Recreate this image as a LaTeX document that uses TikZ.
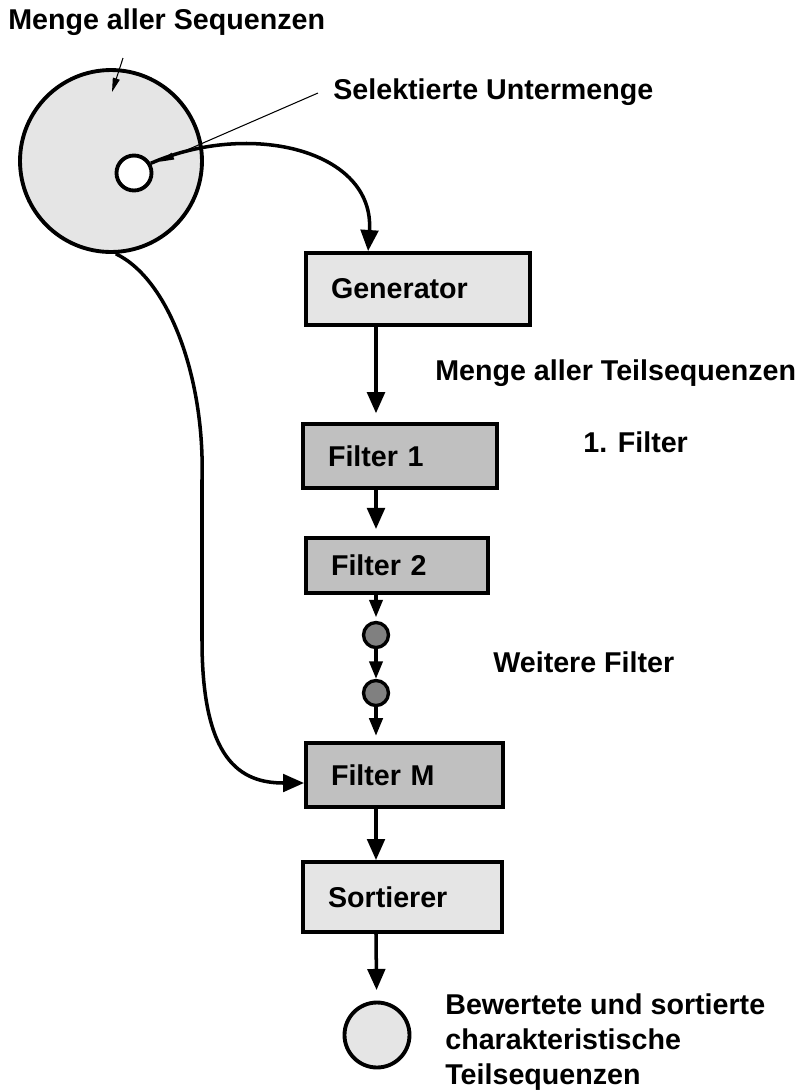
\documentclass[tikz,border=0pt]{standalone}
\usepackage{fontspec}
\setmainfont{Liberation Sans}
\usetikzlibrary{arrows.meta,calc,positioning}
\definecolor{lightfill}{HTML}{E5E5E5}
\definecolor{filterfill}{HTML}{C0C0C0}
\definecolor{dotfill}{HTML}{808080}

\begin{document}
\begin{tikzpicture}[x=0.02cm, y=-0.02cm,
    every node/.style={font=\bfseries\fontsize{16.3}{19.8}\selectfont},
    note/.style={anchor=west, inner sep=0pt, align=left},
    box/.style={draw, line width=2.2pt, inner xsep=0.5cm, inner ysep=0pt, align=left},
    stage/.style={box, fill=lightfill},
    filterbox/.style={box, fill=filterfill},
    set/.style={draw, circle, line width=2.2pt, inner sep=0pt},
    dot/.style={draw, circle, line width=1.9pt, fill=dotfill, minimum size=0.5cm, inner sep=0pt},
    flow/.style={line width=2pt, -{Triangle[length=12pt,width=10pt]}},
    smallflow/.style={line width=2pt, -{Triangle[length=10pt,width=7.5pt]}},
    pointer/.style={line width=0.6pt, -{Triangle[length=8pt,width=4pt]}}]

    \useasboundingbox (0,0) rectangle (800,1090);

    % sequences and the chosen subset
    \node[set, fill=lightfill, minimum size=3.64cm] (all) at (111,161) {};
    \node[set, fill=white, minimum size=0.7cm] (sub) at (134,173) {};
    \node[note] (allname) at (8,22) {Menge aller Sequenzen};
    \node[note] (subname) at (333,92) {Selektierte Untermenge};

    % pipeline
    \node[stage, text width=3.48cm, minimum height=1.44cm] (gen) at (418,289) {Generator};
    \node[filterbox, text width=2.88cm, minimum height=1.28cm] (f1) at (400,456) {Filter 1};
    \node[filterbox, text width=2.64cm, minimum height=1.1cm] (f2) at (397,565.5) {Filter 2};
    \node[dot] (d1) at (376,635) {};
    \node[dot] (d2) at (376,693) {};
    \node[filterbox, text width=2.94cm, minimum height=1.28cm] (fm) at (404.5,775) {Filter M};
    \node[stage, text width=2.98cm, minimum height=1.4cm] (sort) at (402.5,897) {Sortierer};
    \node[set, fill=lightfill, minimum size=1.3cm] (result) at (377,1035) {};

    \node[note] (teil) at (435,373) {Menge aller Teilsequenzen};
    \node[note] (first) at (583,442) {1. Filter};
    \node[note] (more) at (493,662) {Weitere Filter};
    \node[note] (out) at (445,1042) {Bewertete und sortierte\\charakteristische\\Teilsequenzen};

    \coordinate (spine) at (376,0);
    \draw[flow, shorten >=5pt] (gen.south -| spine) -- (f1.north -| spine);
    \draw[flow, shorten >=4pt] (f1.south -| spine) -- (f2.north -| spine);
    \draw[smallflow, shorten >=2pt] (f2.south -| spine) -- (d1);
    \draw[smallflow] (d1) -- (d2);
    \draw[smallflow, shorten >=3pt] (d2) -- (fm.north -| spine);
    \draw[flow] (fm.south -| spine) -- (sort.north -| spine);
    \draw[flow, shorten >=6pt] (sort.south -| spine) -- (result);

    \draw[pointer] ($(allname.west)+(115,36)$) -- ($(all)+(1,-69)$);
    \draw[pointer, shorten >=0.18cm] ($(subname.west)+(-15,1)$) -- (sub);

    % subset into the generator, all sequences into the last filter
    \draw[flow] (sub.30) .. controls (250,120) and (375,150) .. ($(gen.north west)+(64,0)$);
    \draw[flow] (all.-87) .. controls (170,280) and (205,380) .. (202,480) -- (202,640)
        .. controls (202,760) and (240,783) .. ($(fm.west)+(0,8)$);
\end{tikzpicture}
\end{document}
